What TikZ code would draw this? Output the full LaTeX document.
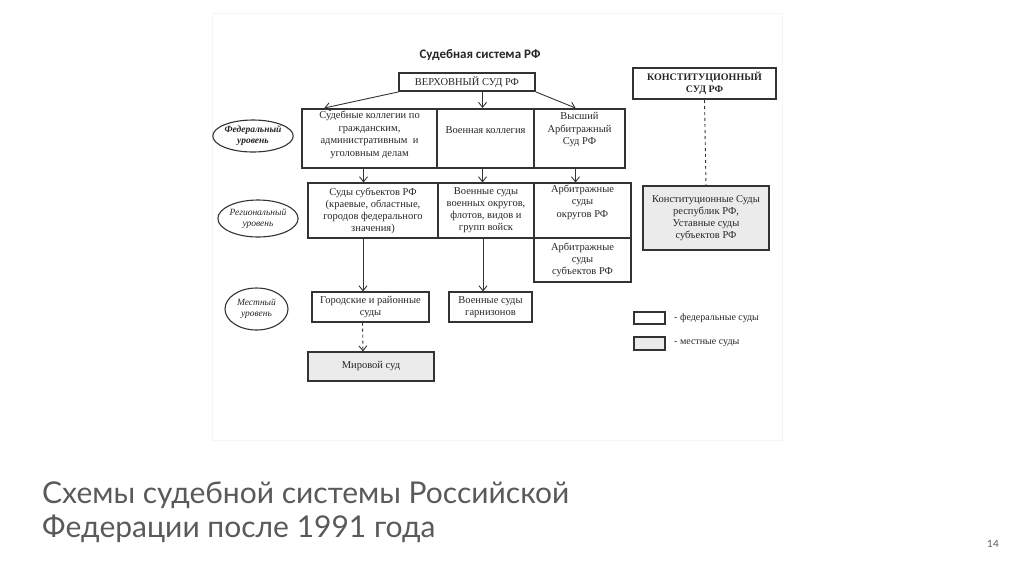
\documentclass[tikz,border=0pt]{standalone}
\usepackage{fontspec}
\setmainfont{Liberation Serif}
\newfontfamily\titlefont{Carlito}
\newfontfamily\capfont{Lato}
\usetikzlibrary{positioning,shapes.geometric,arrows.meta,calc}
\definecolor{linegray}{HTML}{333333}
\definecolor{boxgray}{HTML}{EBEBEB}
\definecolor{capgray}{HTML}{5A5A5A}
\tikzset{
	cell/.style={
		draw = linegray,
		line width = 1.1pt,
		inner sep = 0,
		shape = rectangle,
		align = center,
		font = \fontsize{10.5}{12}\selectfont,
		text = black!85
	},
	fed/.style={
		cell,
		line width = 2pt
	},
	txt/.style={
		align = center,
		inner sep = 0,
		font = \fontsize{10.5}{12.5}\selectfont,
		text = black!85
	},
	lvl/.style={
		draw = linegray,
		shape = ellipse,
		line width = 1.1pt,
		inner sep = 0,
		align = center,
		font = \fontsize{9.5}{11}\selectfont\itshape,
		text = black!85
	},
	conn/.style={
		draw = linegray,
		line width = 0.9pt
	},
}
\tikzset{>={Straight Barb[length=5pt,width=8pt]}}

\begin{document}
\begin{tikzpicture}[x=1pt, y=-1pt]
    \useasboundingbox (0,0) rectangle (1024,574);
    \draw[black!4] (212,13) rectangle (782,440);
    \node[font=\titlefont\bfseries\fontsize{13}{15}\selectfont, text=black!85] (title) at (480,55) {Судебная система РФ};
    % federal level
    \node[fed, minimum width=136pt, minimum height=18pt] (vs) at (467,82) {ВЕРХОВНЫЙ СУД РФ};
    \node[fed, minimum width=143pt, minimum height=31pt, font=\fontsize{10}{12}\selectfont\bfseries] (ks) at (704.5,83.5) {КОНСТИТУЦИОННЫЙ\\СУД РФ};
    \node[fed, minimum width=135pt, minimum height=59pt] (fc1) at (369.5,138.5) {};
    \node[fed, minimum width=97pt, minimum height=59pt] (fc2) at (485.5,138.5) {};
    \node[fed, minimum width=91pt, minimum height=59pt] (fc3) at (579.5,138.5) {};
    \node[txt] (ft1) at (369.5,135) {Судебные коллегии по\\гражданским,\\административным \ и\\уголовным делам};
    \node[txt] (ft2) at (485.5,130) {Военная коллегия};
    \node[txt] (ft3) at (579.5,130) {Высший\\Арбитражный\\Суд РФ};
    % regional level
    \node[cell, minimum width=130pt, minimum height=55pt] (rc1) at (373,210.5) {Суды субъектов РФ\\(краевые, областные,\\городов федерального\\значения)};
    \node[cell, minimum width=96pt, minimum height=55pt] (rc2) at (486,210.5) {Военные суды\\военных округов,\\флотов, видов и\\групп войск};
    \node[cell, minimum width=97pt, minimum height=55pt] (rc3) at (582.5,210.5) {};
    \node[txt] (rt3) at (582.5,202) {Арбитражные\\суды\\округов РФ};
    \node[cell, minimum width=97pt, minimum height=44pt] (rc4) at (582.5,260) {Арбитражные\\суды\\субъектов РФ};
    \node[cell, fill=boxgray, minimum width=126pt, minimum height=64pt] (kr) at (706,218) {Конституционные Суды\\республик РФ,\\Уставные суды\\субъектов РФ};
    % local level
    \node[cell, minimum width=117pt, minimum height=30pt] (gs) at (370.5,307) {Городские и районные\\суды};
    \node[cell, minimum width=83pt, minimum height=30pt] (vg) at (490.5,307) {Военные суды\\гарнизонов};
    \node[cell, fill=boxgray, minimum width=126pt, minimum height=29pt] (ms) at (371,366.5) {Мировой суд};
    % levels
    \node[lvl, minimum width=77pt, minimum height=32pt, font=\fontsize{9.5}{11}\selectfont\bfseries\itshape] (e1) at (253,136) {Федеральный\\уровень};
    \node[lvl, minimum width=80pt, minimum height=37pt] (e2) at (258,218.5) {Региональный\\уровень};
    \node[lvl, minimum width=63pt, minimum height=42pt] (e3) at (256.5,309) {Местный\\уровень};
    % legend
    \node[fed, line width=1.6pt, minimum width=31pt, minimum height=12pt] (lg1) at (649.5,318) {};
    \node[cell, fill=boxgray, minimum width=31pt, minimum height=13pt] (lg2) at (649.5,343.5) {};
    \node[txt, anchor=west, font=\fontsize{10}{12}\selectfont] (lt1) at (674,318) {- федеральные суды};
    \node[txt, anchor=west, font=\fontsize{10}{12}\selectfont] (lt2) at (674,343.5) {- местные суды};
    % arrows
    \draw[conn, ->] (vs.south west) -- ($(fc1.north west)!0.17!(fc1.north east)$);
    \draw[conn, ->] ($(vs.south -| fc2.north)+(-3,0)$) -- ($(fc2.north)+(-3,0)$);
    \draw[conn, ->] (vs.south east) -- ($(fc3.north)+(-4,0)$);
    \foreach \a/\b/\d in {fc1/rc1/-6,fc2/rc2/-3,fc3/rc3/-4}{
      \draw[conn, ->] ($(\a.south)+(\d,0)$) -- ($(\a.south |- \b.north)+(\d,0)$);
    }
    \draw[conn, ->] ($(rc1.south)+(-10,0)$) -- ($(rc1.south |- gs.north)+(-10,0)$);
    \draw[conn, ->] ($(rc2.south)+(-3,0)$) -- ($(rc2.south |- vg.north)+(-3,0)$);
    \draw[conn, ->, dashed] ($(gs.south)+(-8,0)$) -- ($(ms.north)+(-8,0)$);
    \draw[conn, dashed] (ks.south) -- (kr.north);
    % caption
    \node[anchor=base west, font=\capfont\fontsize{30}{35}\selectfont, text=capgray, inner sep=0] (cap1) at (42,503) {Схемы судебной системы Российской};
    \node[anchor=base west, font=\capfont\fontsize{30}{35}\selectfont, text=capgray, inner sep=0] (cap2) at (42,537) {Федерации после 1991 года};
    \node[font=\capfont\fontsize{10}{12}\selectfont, text=capgray] (pnum) at (993,544) {14};
\end{tikzpicture}
\end{document}
